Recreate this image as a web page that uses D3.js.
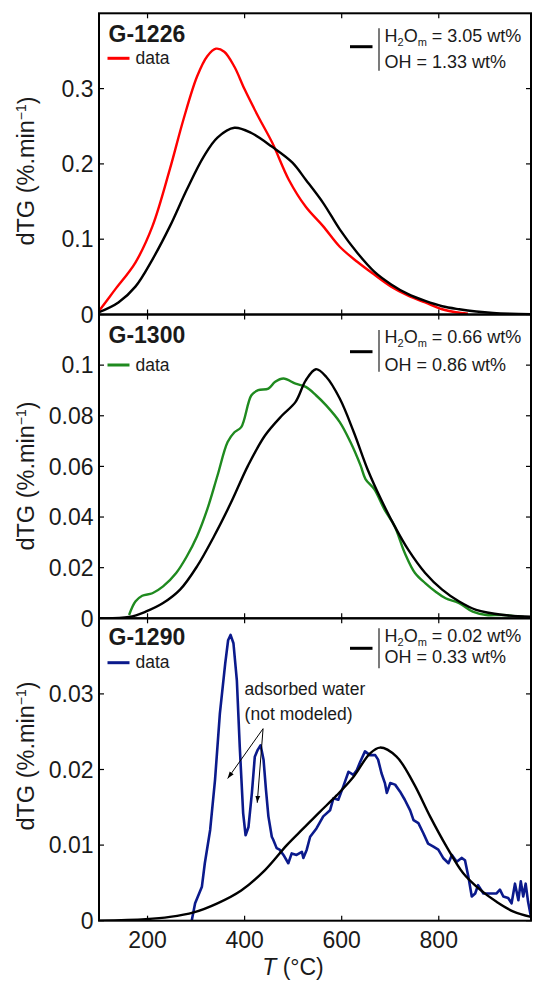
<!DOCTYPE html>
<html><head><meta charset="utf-8">
<script src="https://cdn.jsdelivr.net/npm/d3@7"></script>
<style>
body{margin:0;background:#fff}
svg{display:block}
text{font-family:"Liberation Sans",Arial,Helvetica,sans-serif;fill:#1a1a1a}
</style>
</head><body>
<svg id="c" width="533" height="982"></svg>
<script>
// ---------------- DATA ----------------
const xTicks = [200, 400, 600, 800];
const xDomain = [100, 990];
const sampleNames = ["G-1226", "G-1300", "G-1290"];
const seriesColors = ["#ff0000", "#1f8a1f", "#0b1a8c"];
const yMaxes = [0.4, 0.12, 0.04];
const yTickValues = [[0, 0.1, 0.2, 0.3], [0, 0.02, 0.04, 0.06, 0.08, 0.1], [0, 0.01, 0.02, 0.03]];
const yTickLabels = [["0", "0.1", "0.2", "0.3"], ["0", "0.02", "0.04", "0.06", "0.08", "0.1"], ["0", "0.01", "0.02", "0.03"]];
const h2omValues = ["3.05", "0.66", "0.02"];
const ohValues = ["1.33", "0.86", "0.33"];
const annotationLines = ["adsorbed water", "(not modeled)"];

// [T (°C), dTG]
const g1226Data = [[100,0.005],[105,0.009],[133,0.033],[175,0.069],[210,0.117],[246,0.193],[274,0.259],[302,0.316],[323,0.343],[341,0.353],[358,0.349],[379,0.329],[400,0.299],[428,0.263],[457,0.228],[491,0.179],[526,0.143],[562,0.117],[596,0.090],[632,0.070],[667,0.053],[702,0.037],[737,0.025],[772,0.016],[807,0.007],[835,0.003],[860,0.001]];
const g1226Model = [[100,0.003],[140,0.016],[175,0.037],[210,0.073],[246,0.117],[281,0.166],[316,0.210],[344,0.235],[379,0.248],[414,0.241],[456,0.223],[498,0.202],[526,0.179],[562,0.148],[596,0.113],[632,0.082],[667,0.057],[702,0.040],[737,0.027],[772,0.018],[807,0.011],[842,0.007],[877,0.004],[912,0.002],[947,0.001],[990,0.0005]];
const g1300Data = [[162,0.0013],[175,0.0066],[189,0.0089],[210,0.0099],[232,0.0126],[259,0.0179],[281,0.0245],[302,0.0324],[323,0.043],[344,0.0563],[365,0.0696],[379,0.0735],[393,0.0755],[414,0.0881],[428,0.0901],[449,0.0907],[463,0.0934],[480,0.0947],[505,0.0927],[526,0.0914],[547,0.0881],[568,0.0841],[596,0.0775],[618,0.0696],[639,0.0603],[649,0.055],[667,0.051],[688,0.043],[709,0.0364],[730,0.0258],[751,0.0179],[772,0.0139],[793,0.0106],[814,0.0079],[842,0.006],[870,0.0026],[898,0.0013],[933,0.0013],[975,0.0005]];
const g1300Model = [[100,0],[162,0.0005],[196,0.0026],[232,0.006],[267,0.0113],[302,0.0205],[337,0.0324],[372,0.0457],[407,0.0603],[442,0.0722],[477,0.0801],[505,0.0855],[526,0.094],[547,0.0984],[568,0.0954],[596,0.0868],[625,0.0735],[653,0.059],[681,0.047],[709,0.0364],[737,0.0271],[772,0.0179],[807,0.0113],[842,0.0066],[877,0.0033],[933,0.0013],[990,0.0006]];
const g1290Data = [[291,0],[298,0.0023],[312,0.0045],[318,0.0076],[329,0.012],[339,0.0186],[349,0.0274],[360,0.034],[366,0.0371],[371,0.0378],[377,0.0367],[384,0.0318],[390,0.023],[397,0.0142],[402,0.0113],[408,0.0124],[415,0.0169],[421,0.0217],[427,0.0226],[433,0.0232],[439,0.0213],[444,0.0173],[449,0.0138],[456,0.0111],[459,0.0107],[466,0.0096],[472,0.0094],[480,0.0087],[490,0.0076],[497,0.0089],[507,0.0087],[518,0.0091],[521,0.0083],[528,0.0094],[535,0.0111],[548,0.0122],[562,0.0138],[576,0.0146],[583,0.0162],[593,0.016],[603,0.0177],[614,0.0197],[624,0.0193],[631,0.0199],[638,0.021],[648,0.0224],[658,0.0219],[669,0.0219],[675,0.0213],[682,0.0195],[689,0.0182],[693,0.0169],[700,0.0182],[710,0.018],[720,0.0171],[730,0.016],[741,0.0146],[748,0.0133],[758,0.0129],[768,0.0116],[778,0.0102],[789,0.0098],[799,0.0094],[809,0.0083],[820,0.0076],[827,0.0087],[837,0.0078],[847,0.0083],[854,0.008],[861,0.0058],[868,0.0032],[875,0.0036],[881,0.0047],[892,0.0036],[906,0.0036],[919,0.0036],[926,0.0041],[933,0.0032],[943,0.003],[950,0.0023],[957,0.0049],[964,0.0027],[969,0.0052],[974,0.0032],[979,0.0049],[984,0.0025],[990,0.0005]];
const g1290Model = [[100,0],[196,0.0002],[246,0.0005],[295,0.0011],[344,0.0023],[393,0.004],[442,0.0067],[487,0.0100],[521,0.0122],[555,0.0144],[590,0.0166],[624,0.019],[658,0.0221],[679,0.0229],[713,0.0217],[748,0.0182],[782,0.0138],[816,0.0098],[850,0.0063],[885,0.0041],[919,0.0025],[954,0.0012],[990,0.0005]];
const dataSeries = [g1226Data, g1300Data, g1290Data];
const modelSeries = [g1226Model, g1300Model, g1290Model];
// annotation arrows in data units: [fromT, fromY, toT, toY]
const arrows = [[438, 0.0254, 365, 0.0188], [438, 0.0254, 426, 0.0156]];
const annotationAnchor = [400, 0.0299, 0.02655];

// ---------------- LAYOUT ----------------
const svg = d3.select("#c");
const left = 99, right = 531;
const panelTops = [13.3, 314.5, 618.3];
const panelBottoms = [314.5, 618.3, 920.7];
const yLabelCenters = [171, 476, 756];
const legendOffsets = [
  {title:28.4, dataLine:45, dataText:50.5, modelLine:33.4, barTop:15, barBot:57.4, h2o:28.4, oh:55},
  {title:28.8, dataLine:50.5, dataText:56, modelLine:37.2, barTop:15.5, barBot:57.2, h2o:28.8, oh:56.2},
  {title:26.7, dataLine:44.4, dataText:50, modelLine:30, barTop:10, barBot:50, h2o:23.4, oh:45}
];
const x = d3.scaleLinear().domain(xDomain).range([left, right]);
const tickLen = 5;

const defs = svg.append("defs");
defs.append("marker")
  .attr("id", "ah").attr("viewBox", "0 0 10 10").attr("refX", 10).attr("refY", 5)
  .attr("markerWidth", 7).attr("markerHeight", 7).attr("orient", "auto-start-reverse")
  .attr("markerUnits", "userSpaceOnUse")
  .append("path").attr("d", "M0,1.5 L10,5 L0,8.5 Z").attr("fill", "#000");

sampleNames.forEach((name, i) => {
  const top = panelTops[i], bot = panelBottoms[i];
  const y = d3.scaleLinear().domain([0, yMaxes[i]]).range([bot, top]);
  const g = svg.append("g");
  const clipId = "clip" + i;
  defs.append("clipPath").attr("id", clipId)
    .append("rect").attr("x", left).attr("y", top).attr("width", right - left).attr("height", bot - top);

  const smooth = d3.line().x(d => x(d[0])).y(d => y(d[1])).curve(d3.curveCatmullRom.alpha(0.5));
  const rough = d3.line().x(d => x(d[0])).y(d => y(d[1])).curve(d3.curveLinear);
  const plot = g.append("g").attr("clip-path", `url(#${clipId})`);
  plot.append("path").datum(dataSeries[i]).attr("d", i === 2 ? rough : smooth)
    .attr("fill", "none").attr("stroke", seriesColors[i]).attr("stroke-width", i === 2 ? 2.6 : 2.4)
    .attr("stroke-linejoin", "round");
  plot.append("path").datum(modelSeries[i]).attr("d", smooth)
    .attr("fill", "none").attr("stroke", "#000").attr("stroke-width", 2.4);

  // frame
  g.append("rect").attr("x", left).attr("y", top).attr("width", right - left).attr("height", bot - top)
    .attr("fill", "none").attr("stroke", "#000").attr("stroke-width", 2);
  // x ticks (inward, top and bottom)
  xTicks.forEach(t => {
    g.append("line").attr("x1", x(t)).attr("x2", x(t)).attr("y1", bot).attr("y2", bot - tickLen).attr("stroke", "#000").attr("stroke-width", 1.2);
    g.append("line").attr("x1", x(t)).attr("x2", x(t)).attr("y1", top).attr("y2", top + tickLen).attr("stroke", "#000").attr("stroke-width", 1.2);
  });
  // y ticks
  yTickValues[i].forEach((v, k) => {
    g.append("line").attr("x1", left).attr("x2", left + tickLen).attr("y1", y(v)).attr("y2", y(v)).attr("stroke", "#000").attr("stroke-width", 1.2);
    g.append("line").attr("x1", right).attr("x2", right - tickLen).attr("y1", y(v)).attr("y2", y(v)).attr("stroke", "#000").attr("stroke-width", 1.2);
    g.append("text").attr("x", 93.5).attr("y", y(v)).attr("dy", "0.36em").attr("text-anchor", "end")
      .attr("font-size", 23).text(yTickLabels[i][k]);
  });
  // y label
  const yl = g.append("text").attr("transform", `translate(34,${yLabelCenters[i]}) rotate(-90)`)
    .attr("text-anchor", "middle").attr("font-size", 23.5);
  yl.append("tspan").text("dTG (%.min");
  yl.append("tspan").attr("font-size", 14).attr("dy", "-0.55em").text("\u22121");
  yl.append("tspan").attr("dy", "0.35em").text(")");

  const L = legendOffsets[i];
  g.append("text").attr("x", 108.5).attr("y", top + L.title).attr("font-size", 23).attr("font-weight", "bold").text(name);
  g.append("line").attr("x1", 107.5).attr("x2", 129.5).attr("y1", top + L.dataLine).attr("y2", top + L.dataLine)
    .attr("stroke", seriesColors[i]).attr("stroke-width", 3);
  g.append("text").attr("x", 135.5).attr("y", top + L.dataText).attr("font-size", 17.5).text("data");

  g.append("line").attr("x1", 350).attr("x2", 372.5).attr("y1", top + L.modelLine).attr("y2", top + L.modelLine)
    .attr("stroke", "#000").attr("stroke-width", 3);
  g.append("line").attr("x1", 379).attr("x2", 379).attr("y1", top + L.barTop).attr("y2", top + L.barBot)
    .attr("stroke", "#333").attr("stroke-width", 1.3);
  const t1 = g.append("text").attr("x", 384.5).attr("y", top + L.h2o).attr("font-size", 18);
  t1.append("tspan").text("H");
  t1.append("tspan").attr("font-size", 11).attr("dy", 4).text("2");
  t1.append("tspan").attr("dy", -4).text("O");
  t1.append("tspan").attr("font-size", 11).attr("dy", 4).text("m");
  t1.append("tspan").attr("dy", -4).text(" = " + h2omValues[i] + " wt%");
  g.append("text").attr("x", 384.5).attr("y", top + L.oh).attr("font-size", 18).text("OH = " + ohValues[i] + " wt%");

  if (i === 2) {
    annotationLines.forEach((s, k) => {
      g.append("text").attr("x", x(annotationAnchor[0])).attr("y", y(annotationAnchor[1 + k]))
        .attr("font-size", 17.5).text(s);
    });
    arrows.forEach(a => {
      g.append("line").attr("x1", x(a[0])).attr("y1", y(a[1])).attr("x2", x(a[2])).attr("y2", y(a[3]))
        .attr("stroke", "#000").attr("stroke-width", 1).attr("marker-end", "url(#ah)");
    });
    // x tick labels
    xTicks.forEach(t => {
      g.append("text").attr("x", x(t)).attr("y", 948.3).attr("text-anchor", "middle").attr("font-size", 23).text(t);
    });
    const xl = g.append("text").attr("x", 293).attr("y", 975).attr("text-anchor", "middle").attr("font-size", 23);
    xl.append("tspan").attr("font-style", "italic").text("T");
    xl.append("tspan").text(" (\u00B0C)");
  }
});
</script>
</body></html>
